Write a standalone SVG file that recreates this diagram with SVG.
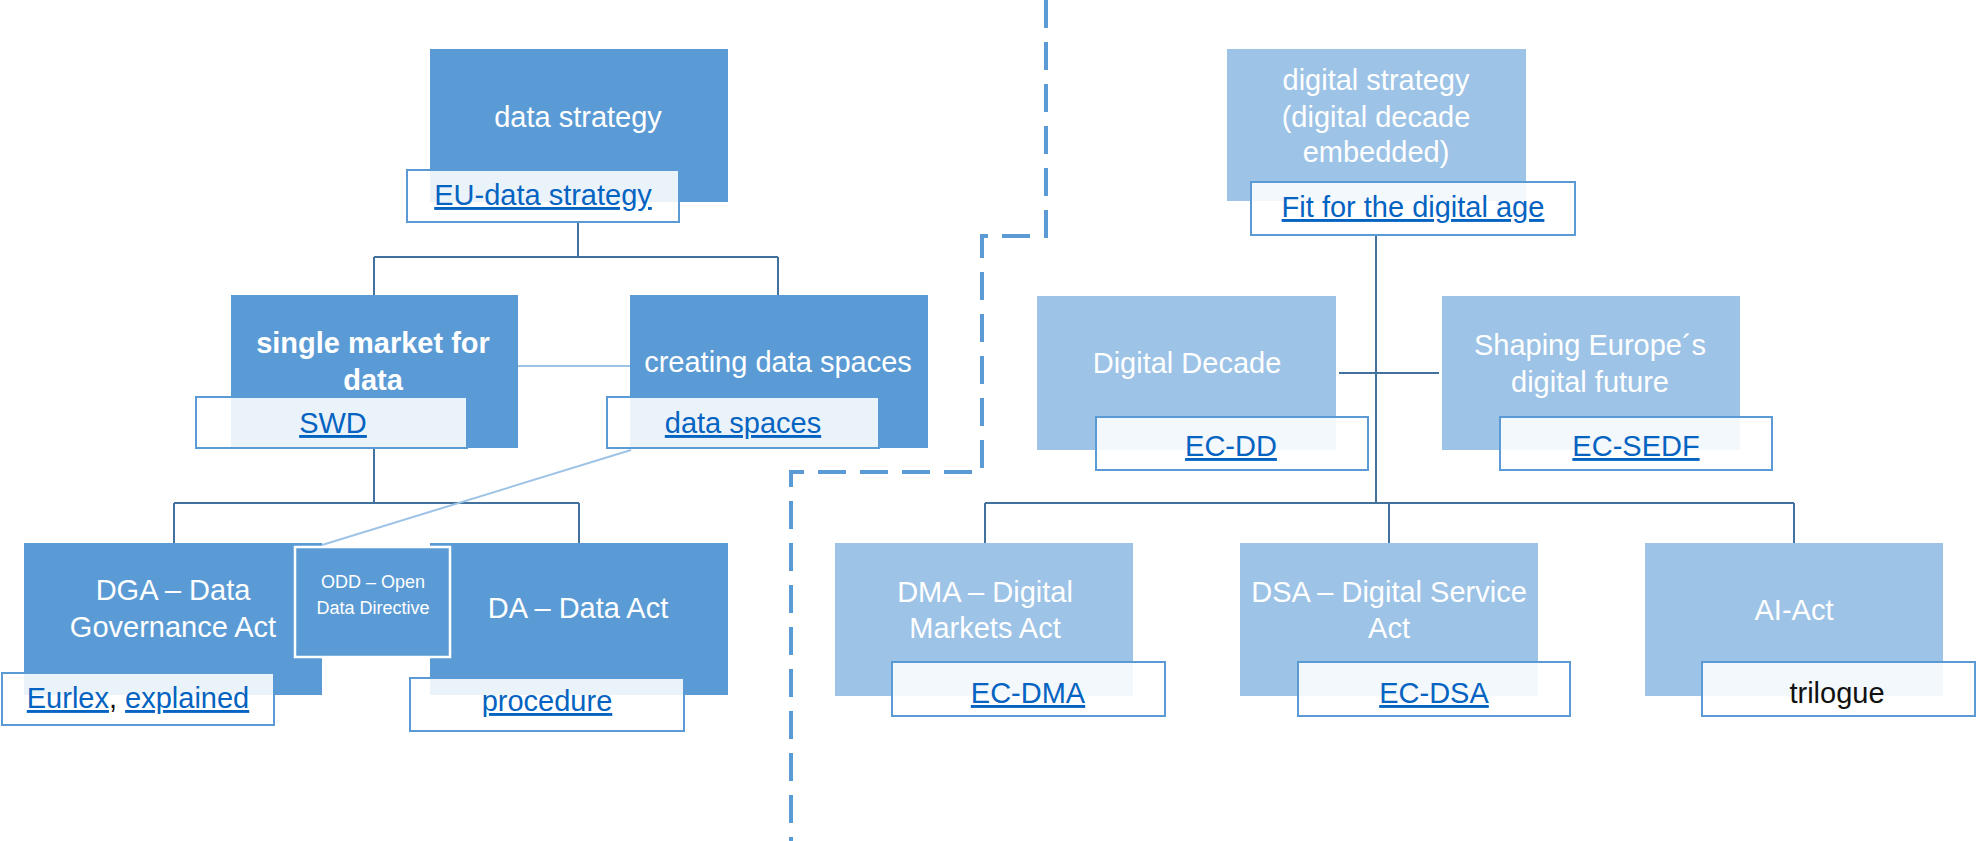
<svg xmlns="http://www.w3.org/2000/svg" width="1977" height="841" viewBox="0 0 1977 841">
<style>
.dark{fill:#5b9bd5}
.light{fill:#9dc3e6}
.lnk{fill:#ffffff;fill-opacity:0.88;stroke:#5b9bd5;stroke-width:2}
.lbl{font-family:"Liberation Sans",Arial,sans-serif;font-size:29px;fill:#ffffff;text-anchor:middle}
.bold{font-weight:bold}
.small{font-size:18px}
.url{font-family:"Liberation Sans",Arial,sans-serif;font-size:29px;fill:#0563c1;text-anchor:middle;text-decoration:underline}
.urlbase{font-family:"Liberation Sans",Arial,sans-serif;font-size:29px;fill:#0563c1;text-anchor:middle}
.u{text-decoration:underline}
.plain{font-family:"Liberation Sans",Arial,sans-serif;font-size:29px;fill:#111111;text-anchor:middle}
.conn{fill:none;stroke:#41719c;stroke-width:2}
.connl{fill:none;stroke:#9dc3e6;stroke-width:2}
.dash{fill:none;stroke:#5b9bd5;stroke-width:4;stroke-dasharray:28 14}
</style>
<rect width="1977" height="841" fill="#ffffff"/>
<g id="connectors">
<path class="conn" d="M578,222 V257 M374,257 H778 M374,257 V295 M778,257 V295"/>
<path class="conn" d="M374,448 V503 M174,503 H579 M174,503 V543 M579,503 V543"/>
<path class="connl" d="M518,366 H630"/>
<path class="connl" d="M631,450 L322,545"/>
<path class="conn" d="M1376,235 V503 M985,503 H1794 M985,503 V543 M1389,503 V543 M1794,503 V543"/>
<path class="conn" d="M1339,373 H1439"/>
<path class="dash" d="M1046,0 V236 H982 V472 H791 V841"/>
</g>
<g id="data-strategy">
<rect class="dark" x="430" y="49" width="298" height="153"/>
<text class="lbl" x="578" y="127">data strategy</text>
<rect class="lnk" x="407" y="170" width="272" height="52"/>
<text class="url" x="543" y="205">EU-data strategy</text>
</g>
<g id="single-market">
<rect class="dark" x="231" y="295" width="287" height="153"/>
<text class="lbl bold" x="373" y="353">single market for</text>
<text class="lbl bold" x="373" y="390">data</text>
<rect class="lnk" x="196" y="397" width="271" height="51"/>
<text class="url" x="333" y="433">SWD</text>
</g>
<g id="creating-data-spaces">
<rect class="dark" x="630" y="295" width="298" height="153"/>
<text class="lbl" x="778" y="372">creating data spaces</text>
<rect class="lnk" x="607" y="397" width="272" height="51"/>
<text class="url" x="743" y="433">data spaces</text>
</g>
<g id="dga">
<rect class="dark" x="24" y="543" width="298" height="152"/>
<text class="lbl" x="173" y="600">DGA – Data</text>
<text class="lbl" x="173" y="637">Governance Act</text>
<rect class="lnk" x="2" y="673" width="272" height="52"/>
<text class="urlbase" x="138" y="708"><tspan class="u">Eurlex</tspan><tspan fill="#111111">, </tspan><tspan class="u">explained</tspan></text>
</g>
<g id="da">
<rect class="dark" x="430" y="543" width="298" height="152"/>
<text class="lbl" x="578" y="618">DA – Data Act</text>
<rect class="lnk" x="410" y="678" width="274" height="53"/>
<text class="url" x="547" y="711">procedure</text>
</g>
<g id="odd">
<rect class="dark" x="295" y="547" width="155" height="110" stroke="#ffffff" stroke-width="2.5"/>
<text class="lbl small" x="373" y="588">ODD – Open</text>
<text class="lbl small" x="373" y="614">Data Directive</text>
</g>
<g id="digital-strategy">
<rect class="light" x="1227" y="49" width="299" height="152"/>
<text class="lbl" x="1376" y="90">digital strategy</text>
<text class="lbl" x="1376" y="127">(digital decade</text>
<text class="lbl" x="1376" y="162">embedded)</text>
<rect class="lnk" x="1251" y="182" width="324" height="53"/>
<text class="url" x="1413" y="217">Fit for the digital age</text>
</g>
<g id="digital-decade">
<rect class="light" x="1037" y="296" width="299" height="154"/>
<text class="lbl" x="1187" y="373">Digital Decade</text>
<rect class="lnk" x="1096" y="417" width="272" height="53"/>
<text class="url" x="1231" y="456">EC-DD</text>
</g>
<g id="shaping">
<rect class="light" x="1442" y="296" width="298" height="154"/>
<text class="lbl" x="1590" y="355">Shaping Europe´s</text>
<text class="lbl" x="1590" y="392">digital future</text>
<rect class="lnk" x="1500" y="417" width="272" height="53"/>
<text class="url" x="1636" y="456">EC-SEDF</text>
</g>
<g id="dma">
<rect class="light" x="835" y="543" width="298" height="153"/>
<text class="lbl" x="985" y="602">DMA – Digital</text>
<text class="lbl" x="985" y="638">Markets Act</text>
<rect class="lnk" x="892" y="662" width="273" height="54"/>
<text class="url" x="1028" y="703">EC-DMA</text>
</g>
<g id="dsa">
<rect class="light" x="1240" y="543" width="298" height="153"/>
<text class="lbl" x="1389" y="602">DSA – Digital Service</text>
<text class="lbl" x="1389" y="638">Act</text>
<rect class="lnk" x="1298" y="662" width="272" height="54"/>
<text class="url" x="1434" y="703">EC-DSA</text>
</g>
<g id="ai-act">
<rect class="light" x="1645" y="543" width="298" height="153"/>
<text class="lbl" x="1794" y="620">AI-Act</text>
<rect class="lnk" x="1702" y="662" width="273" height="54"/>
<text class="plain" x="1837" y="703">trilogue</text>
</g>
</svg>
